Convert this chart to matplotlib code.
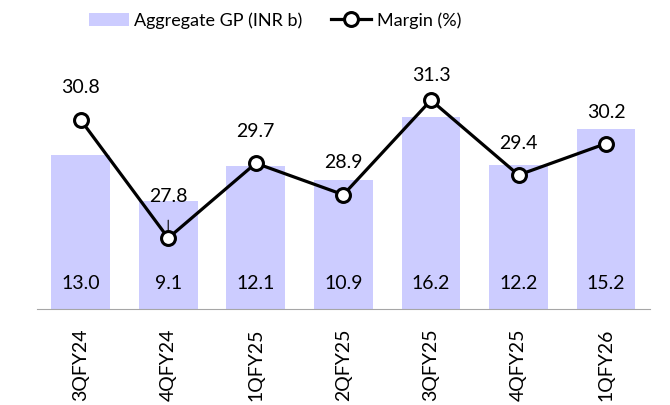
import matplotlib.pyplot as plt

plt.rcParams['font.family'] = ['Lato', 'DejaVu Sans']

quarters = ['3QFY24', '4QFY24', '1QFY25', '2QFY25', '3QFY25', '4QFY25', '1QFY26']
gp = [13.0, 9.1, 12.1, 10.9, 16.2, 12.2, 15.2]
margin = [30.8, 27.8, 29.7, 28.9, 31.3, 29.4, 30.2]
# label offsets above the markers (points)
label_dy = [23, 30, 22.5, 23, 17.5, 23, 22.5]

fig = plt.figure(figsize=(6.7, 4.05), dpi=100)
ax = fig.add_axes([0.055, 0.237, 0.915, 0.613])
x = list(range(len(quarters)))

bars = ax.bar(x, gp, width=0.67, color='#CCCCFF', label='Aggregate GP (INR b)')
for xi, v in zip(x, gp):
    ax.annotate(f'{v:.1f}', (xi, 0), xytext=(0, 18.5), textcoords='offset points',
                ha='center', va='center', fontsize=14)
ax.set_ylim(0, 21)
ax.set_xlim(-0.5, len(quarters) - 0.5)
ax.set_yticks([])
for s in ['top', 'right', 'left']:
    ax.spines[s].set_visible(False)
ax.spines['bottom'].set_color('#A6A6A6')
ax.set_xticks(x)
ax.set_xticklabels(quarters, rotation=90, fontsize=14)
ax.tick_params(axis='x', length=0, pad=14)

ax2 = ax.twinx()
line, = ax2.plot(x, margin, color='black', lw=2.3, marker='o', ms=10,
                 mfc='white', mec='black', mew=2.2, label='Margin (%)')
ax2.set_ylim(26, 32.3)
ax2.set_yticks([])
for s in ax2.spines.values():
    s.set_visible(False)
for xi, v, dy in zip(x, margin, label_dy):
    if v == 27.8:
        ax2.annotate(f'{v:.1f}', (xi, v), xytext=(0, dy), textcoords='offset points',
                     ha='center', va='center', fontsize=14,
                     arrowprops=dict(arrowstyle='-', color='black', lw=0.8,
                                     shrinkA=9, shrinkB=4))
    else:
        ax2.annotate(f'{v:.1f}', (xi, v), xytext=(0, dy), textcoords='offset points',
                     ha='center', va='center', fontsize=14)

fig.legend(handles=[bars, line], loc='center left', bbox_to_anchor=(0.133, 0.95),
           ncol=2, frameon=False, fontsize=13, handlelength=2.2, columnspacing=1.6,
           handletextpad=0.3, borderpad=0, borderaxespad=0)

fig.savefig('out.png', dpi=100)
